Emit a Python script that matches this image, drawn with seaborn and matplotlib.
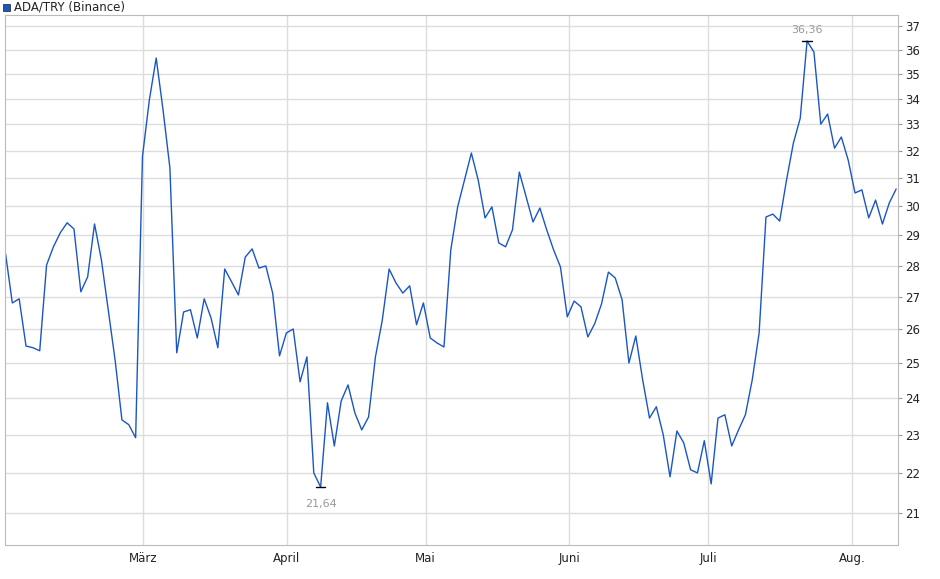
import numpy as np
import pandas as pd
import matplotlib
matplotlib.use("Agg")
import matplotlib.pyplot as plt
import matplotlib.dates as mdates
import seaborn as sns

prices = [28.41, 26.81, 26.94, 25.50, 25.45, 25.36, 28.02, 28.62, 29.09, 29.43,
          29.22, 27.16, 27.64, 29.39, 28.19, 26.60, 25.09, 23.40, 23.27, 22.92,
          31.80, 33.95, 35.65, 33.56, 31.37, 25.30, 26.53, 26.60, 25.74, 26.94,
          26.35, 25.45, 27.89, 27.48, 27.06, 28.28, 28.55, 27.92, 27.99, 27.12,
          25.21, 25.89, 26.01, 24.46, 25.18, 22.00, 21.64, 23.87, 22.70, 23.92,
          24.37, 23.59, 23.13, 23.48, 25.18, 26.28, 27.89, 27.44, 27.12, 27.35,
          26.14, 26.81, 25.74, 25.59, 25.47, 28.52, 29.98, 30.93, 31.92, 30.93,
          29.60, 29.98, 28.75, 28.62, 29.19, 31.22, 30.33, 29.46, 29.94, 29.19,
          28.52, 27.96, 26.38, 26.87, 26.69, 25.77, 26.17, 26.78, 27.79, 27.60,
          26.91, 25.00, 25.80, 24.52, 23.45, 23.76, 23.00, 21.90, 23.10, 22.78,
          22.08, 22.00, 22.84, 21.72, 23.45, 23.54, 22.70, 23.13, 23.54, 24.52,
          25.89, 29.63, 29.73, 29.49, 30.93, 32.29, 33.24, 36.36, 35.90, 33.01,
          33.40, 32.10, 32.52, 31.66, 30.47, 30.58, 29.60, 30.22, 29.39, 30.12,
          30.61]
ytick_vals = list(range(21, 38))
month_ticks = ["2024-03-01", "2024-04-01", "2024-05-01", "2024-06-01", "2024-07-01", "2024-08-01"]
month_labels = ["März", "April", "Mai", "Juni", "Juli", "Aug."]
series_name = "ADA/TRY (Binance)"

start = pd.Timestamp("2024-03-01") - pd.Timedelta(days=29.7)
dates = pd.date_range(start, periods=len(prices), freq=pd.Timedelta(days=1.479))
df = pd.DataFrame({"date": dates, "price": prices})

sns.set_style("white")
fig = plt.figure(figsize=(9.4, 5.79), dpi=100)
ax = fig.add_axes([5/940, 34/579, 893/940, 530/579])
sns.lineplot(data=df, x="date", y="price", ax=ax, color="#1a56c4", linewidth=1.0)
ax.set_yscale("log")
ax.set_ylim(20.23, 37.48)
ax.set_xlim(start - pd.Timedelta(days=0.1), dates[-1] + pd.Timedelta(days=0.4))
ax.yaxis.set_major_locator(matplotlib.ticker.FixedLocator(ytick_vals))
ax.yaxis.set_minor_locator(matplotlib.ticker.NullLocator())
ax.set_yticklabels([str(v) for v in ytick_vals])
ax.yaxis.tick_right()
ax.set_xticks(pd.to_datetime(month_ticks))
ax.set_xticklabels(month_labels)
ax.tick_params(axis="both", labelsize=8.5, colors="#222222", length=3, color="#999999", pad=2)
ax.grid(True, color="#dddddd", linewidth=1)
ax.set_xlabel(""); ax.set_ylabel("")
for s in ax.spines.values():
    s.set_color("#bbbbbb")

imin = int(np.argmin(prices)); imax = int(np.argmax(prices))
for i, off in [(imin, -12), (imax, 8)]:
    ax.plot([dates[i] - pd.Timedelta(days=1), dates[i] + pd.Timedelta(days=1)], [prices[i]] * 2, color="black", lw=1)
    ax.annotate(f"{prices[i]:.2f}".replace(".", ","), (dates[i], prices[i]), xytext=(0, off),
                textcoords="offset points", ha="center", va="center", fontsize=8, color="#999999")

fig.patches.append(matplotlib.patches.Rectangle((3/940, 1 - 11/579), 7/940, 7/579,
                   transform=fig.transFigure, facecolor="#1a56c4", edgecolor="#333333", lw=0.6))
fig.text(14/940, 1 - 7/579, series_name, fontsize=8.5, va="center", color="#222222")
fig.savefig("out.png", dpi=100)
